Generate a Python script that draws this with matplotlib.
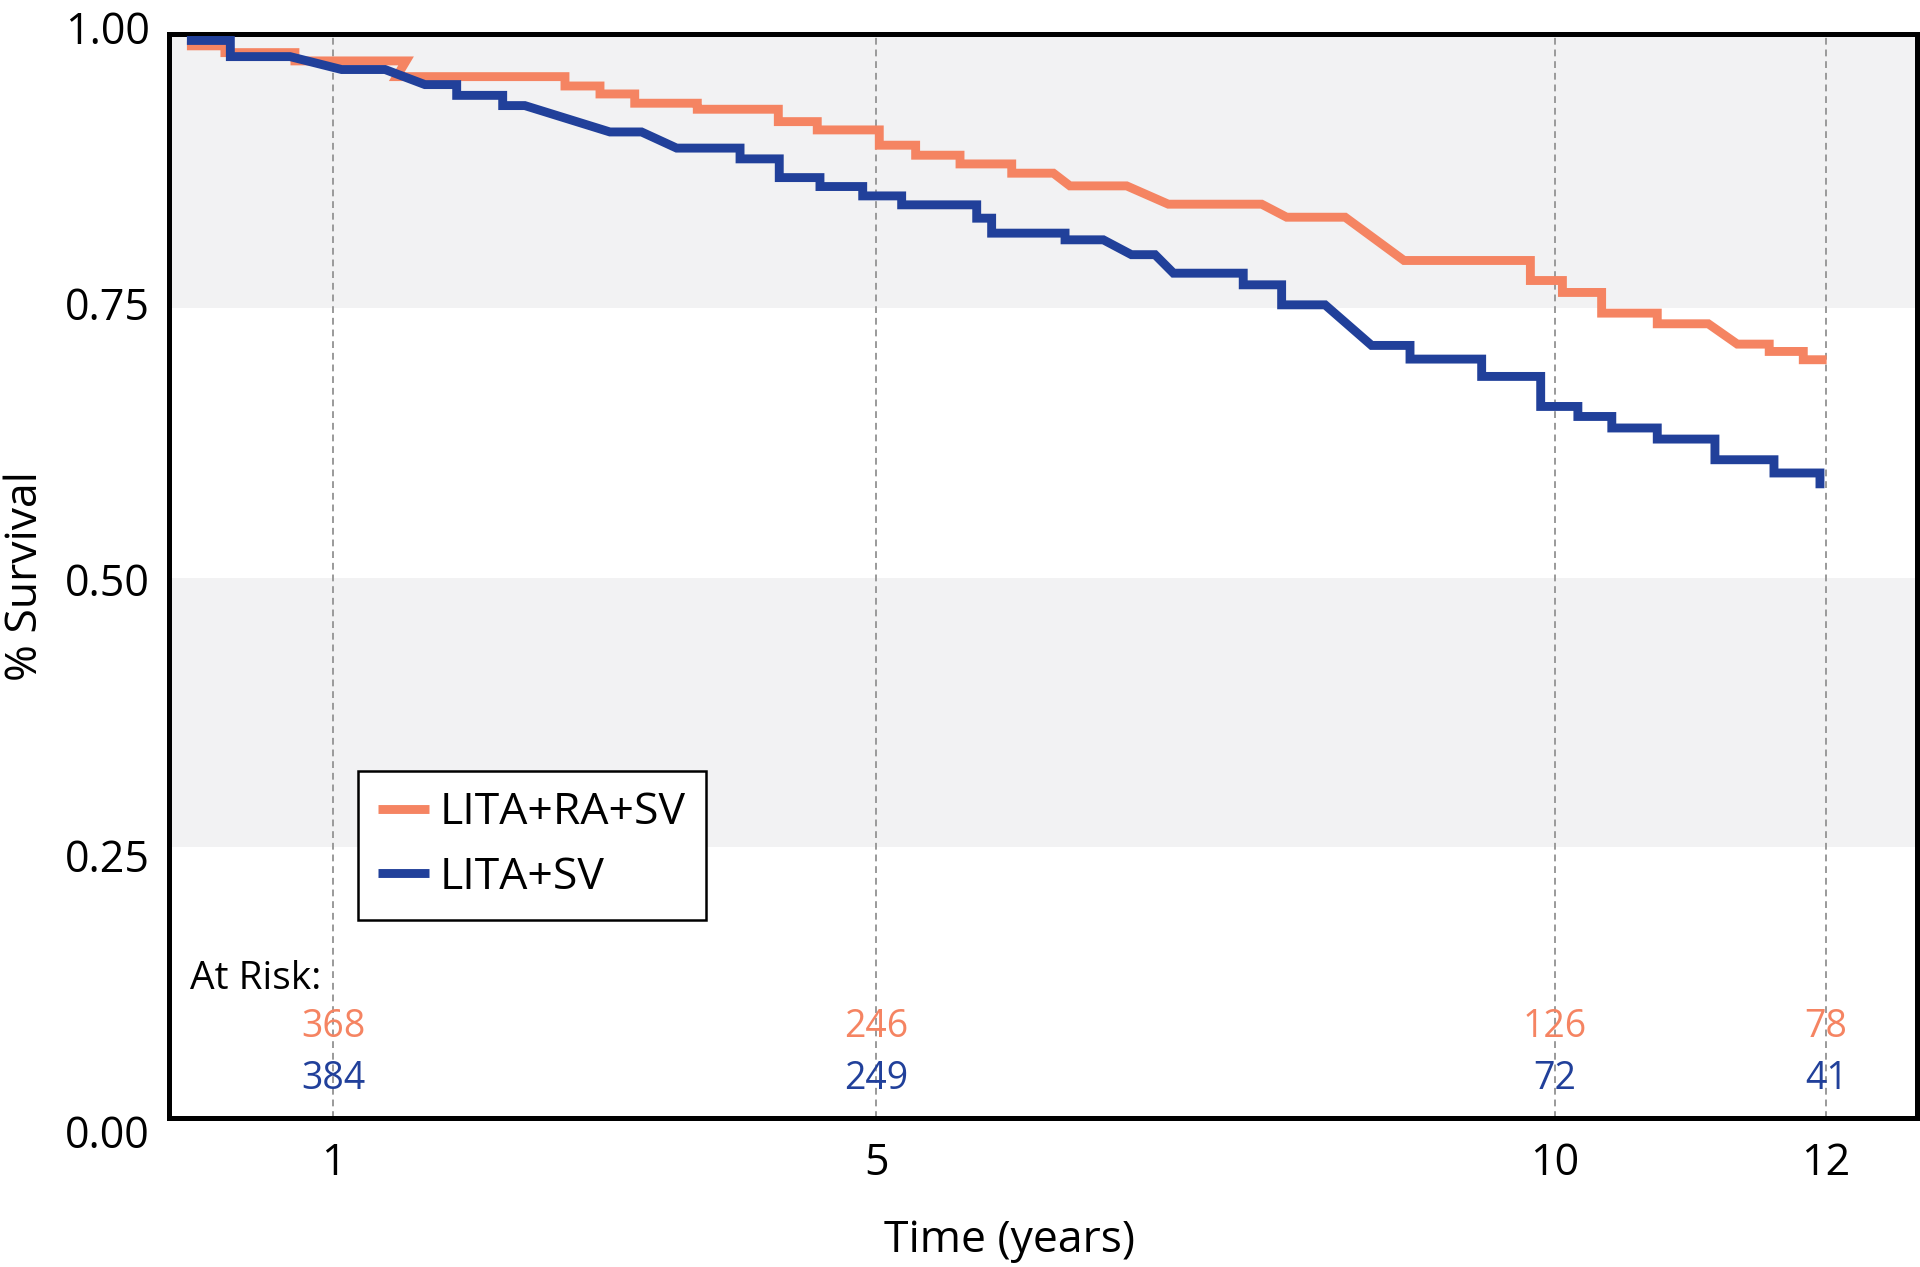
import matplotlib
matplotlib.use("Agg")
import matplotlib.pyplot as plt
from matplotlib.transforms import ScaledTranslation

plt.rcParams['font.family'] = ['Open Sans', 'DejaVu Sans']

# ---------------- data ----------------
series_names = ["LITA+RA+SV", "LITA+SV"]

orange_t = [-0.08, 0.2, 0.2, 0.716, 0.716, 1.535, 1.466, 2.706, 2.706, 2.964, 2.964,
            3.22, 3.22, 3.681, 3.681, 4.278, 4.278, 4.565, 4.565, 5.022, 5.022,
            5.29, 5.29, 5.617, 5.617, 5.998, 5.998, 6.305, 6.427, 6.845, 7.152,
            7.84, 8.024, 8.455, 8.889, 9.82, 9.82, 10.056, 10.056, 10.345, 10.345,
            10.755, 10.755, 11.131, 11.345, 11.58, 11.58, 11.831, 11.831, 12.003]
orange_s = [0.994, 0.994, 0.9877, 0.9877, 0.980, 0.980, 0.9654, 0.9654, 0.9567, 0.9567, 0.9493,
            0.9493, 0.9407, 0.9407, 0.9351, 0.9351, 0.9236, 0.9236, 0.9159, 0.9159, 0.9017,
            0.9017, 0.8924, 0.8924, 0.8843, 0.8843, 0.8757, 0.8757, 0.8639, 0.8639, 0.8469,
            0.8469, 0.8348, 0.8348, 0.7946, 0.7946, 0.776, 0.776, 0.7649, 0.7649, 0.7457,
            0.7457, 0.7358, 0.7358, 0.7169, 0.7169, 0.7101, 0.7101, 0.7024, 0.7024]

blue_t = [-0.08, 0.24, 0.24, 0.68, 1.06, 1.38, 1.674, 1.908, 1.908, 2.247, 2.247,
          2.41, 3.037, 3.27, 3.529, 3.996, 3.996, 4.285, 4.285, 4.585, 4.585,
          4.90, 4.90, 5.187, 5.187, 5.74, 5.74, 5.85, 5.85, 6.391, 6.391,
          6.673, 6.88, 7.054, 7.19, 7.704, 7.704, 7.987, 7.987, 8.307, 8.65,
          8.933, 8.933, 9.461, 9.461, 9.896, 9.896, 10.17, 10.17, 10.42, 10.42,
          10.755, 10.755, 11.18, 11.18, 11.615, 11.615, 11.954, 11.954]
blue_s = [0.999, 0.999, 0.984, 0.984, 0.972, 0.972, 0.958, 0.958, 0.948, 0.948, 0.9385,
          0.9385, 0.914, 0.914, 0.899, 0.899, 0.889, 0.889, 0.8716, 0.8716, 0.8633,
          0.8633, 0.8546, 0.8546, 0.8463, 0.8463, 0.8339, 0.8339, 0.820, 0.820, 0.8138,
          0.8138, 0.800, 0.800, 0.7828, 0.7828, 0.772, 0.772, 0.7534, 0.7534, 0.7157,
          0.7157, 0.703, 0.703, 0.6869, 0.6869, 0.659, 0.659, 0.6497, 0.6497, 0.639,
          0.639, 0.6287, 0.6287, 0.6095, 0.6095, 0.5972, 0.5972, 0.583]

x_ticks = [1, 5, 10, 12]
x_tick_labels = ["1", "5", "10", "12"]
y_ticks = [0.0, 0.25, 0.5, 0.75, 1.0]
y_tick_labels = ["0.00", "0.25", "0.50", "0.75", "1.00"]
at_risk_orange = [368, 246, 126, 78]
at_risk_blue = [384, 249, 72, 41]

# ---------------- style ----------------
ORANGE = "#f58462"
BLUE = "#21409a"
BAND = "#f2f2f3"

fig = plt.figure(figsize=(19.2, 12.67), dpi=100)
ax = fig.add_axes([169 / 1920, 1 - 1118 / 1267, (1917 - 169) / 1920, (1118 - 34) / 1267])

ax.set_xlim(-0.212, 12.669)
ax.set_ylim(-0.002, 1.005)

# shaded bands
ax.axhspan(0.75, 1.01, color=BAND, zorder=0, lw=0)
ax.axhspan(0.25, 0.50, color=BAND, zorder=0, lw=0)

ax.set_axisbelow(True)
ax.grid(axis='x', linestyle=(0, (3.5, 2.5)), color='#9a9a9a', lw=1.4)
ax.grid(axis='y', visible=False)

ax.plot(orange_t, orange_s, color=ORANGE, lw=6.4, solid_joinstyle='miter',
        solid_capstyle='butt', label=series_names[0], zorder=3)
ax.plot(blue_t, blue_s, color=BLUE, lw=6.4, solid_joinstyle='miter',
        solid_capstyle='butt', label=series_names[1], zorder=4)

ax.set_xticks(x_ticks)
ax.set_xticklabels(x_tick_labels)
ax.tick_params(axis='x', length=0, labelsize=31, pad=17)
ax.set_yticks(y_ticks)
ax.set_yticklabels(y_tick_labels)
ax.tick_params(axis='y', length=0, labelsize=31, pad=14)

# the original's y labels are spread a little wider than the plotting range
for lbl, s in zip(ax.get_yticklabels(), y_ticks):
    dy_px = 15.4 - 27.8 * s
    lbl.set_transform(lbl.get_transform() +
                      ScaledTranslation(0, -dy_px / 100, fig.dpi_scale_trans))

for sp in ax.spines.values():
    sp.set_linewidth(3.6)
    sp.set_color('black')

# axis labels
ax.set_xlabel("Time (years)", fontsize=32)
ax.xaxis.set_label_coords((1010 - 169) / 1748, -0.093)
ax.set_ylabel("% Survival", fontsize=32)
ax.yaxis.set_label_coords((26 - 169) / 1748, 0.5)
ax.yaxis.label.set_va('center')

# at-risk table
ax.text(-0.057, 0.127, "At Risk:", fontsize=28, ha='left', va='center', color='black')
for t, n in zip(x_ticks, at_risk_orange):
    ax.text(t, 0.083, str(n), fontsize=27, ha='center', va='center', color=ORANGE)
for t, n in zip(x_ticks, at_risk_blue):
    ax.text(t, 0.034, str(n), fontsize=27, ha='center', va='center', color=BLUE)

leg = ax.legend(loc='upper left', bbox_to_anchor=((357.5 - 169) / 1748, (1118 - 771) / 1084),
                borderaxespad=0, fontsize=32, frameon=True, fancybox=False, shadow=False,
                framealpha=1, edgecolor='black', handlelength=1.15, handletextpad=0.25,
                labelspacing=0.45, borderpad=0.45)
leg.get_frame().set_linewidth(1.8)

fig.savefig("out.png", dpi=100)
